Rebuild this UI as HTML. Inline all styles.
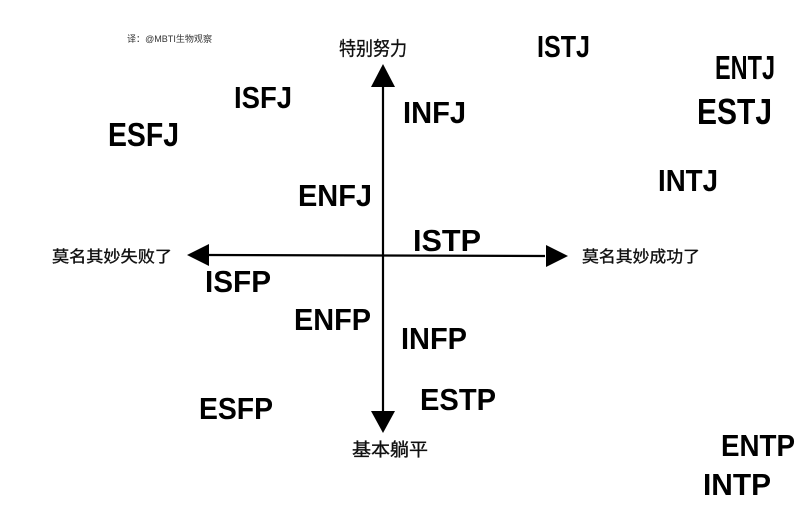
<!DOCTYPE html>
<html><head><meta charset="utf-8"><style>body{margin:0;background:#fff}</style></head><body>
<svg width="802" height="506" viewBox="0 0 802 506" xmlns="http://www.w3.org/2000/svg" style="display:block">
<rect width="802" height="506" fill="#fff"/>
<g stroke="#000" stroke-width="2.2">
<line x1="383" y1="85" x2="383" y2="412"/>
<line x1="208" y1="255" x2="545" y2="256"/>
</g>
<g fill="#000">
<polygon points="383,64 371,87 395,87"/>
<polygon points="383,433 371,411 395,411"/>
<polygon points="187,255 209,244 209,266"/>
<polygon points="568,256 546,245 546,267"/>
</g>
<g font-family="Liberation Sans, Noto Sans CJK SC, sans-serif" fill="#111" stroke="#111" stroke-width="0.35">
<text x="127" y="42" font-size="9" textLength="85" lengthAdjust="spacingAndGlyphs" fill="#333" stroke="none">译：@MBTI生物观察</text>
<text x="339" y="55" font-size="19" textLength="68" lengthAdjust="spacingAndGlyphs">特别努力</text>
<text x="352" y="456" font-size="18" textLength="76" lengthAdjust="spacingAndGlyphs">基本躺平</text>
<text x="52" y="262" font-size="16" textLength="120" lengthAdjust="spacingAndGlyphs">莫名其妙失败了</text>
<text x="582" y="262" font-size="16" textLength="118" lengthAdjust="spacingAndGlyphs">莫名其妙成功了</text>
</g>
<g font-family="Liberation Sans, sans-serif" font-weight="bold" font-size="31" fill="#000">
<text x="537" y="57" textLength="53" lengthAdjust="spacingAndGlyphs">ISTJ</text>
<text x="715" y="79" font-size="33" textLength="60" lengthAdjust="spacingAndGlyphs">ENTJ</text>
<text x="697" y="124" font-size="36" textLength="75" lengthAdjust="spacingAndGlyphs">ESTJ</text>
<text x="234" y="108" textLength="58" lengthAdjust="spacingAndGlyphs">ISFJ</text>
<text x="403" y="123" textLength="63" lengthAdjust="spacingAndGlyphs">INFJ</text>
<text x="108" y="146" font-size="33" textLength="71" lengthAdjust="spacingAndGlyphs">ESFJ</text>
<text x="658" y="191" textLength="60" lengthAdjust="spacingAndGlyphs">INTJ</text>
<text x="298" y="206" textLength="74" lengthAdjust="spacingAndGlyphs">ENFJ</text>
<text x="413" y="251" textLength="68" lengthAdjust="spacingAndGlyphs">ISTP</text>
<text x="205" y="292" textLength="66" lengthAdjust="spacingAndGlyphs">ISFP</text>
<text x="294" y="330" textLength="77" lengthAdjust="spacingAndGlyphs">ENFP</text>
<text x="401" y="349" textLength="66" lengthAdjust="spacingAndGlyphs">INFP</text>
<text x="420" y="410" textLength="76" lengthAdjust="spacingAndGlyphs">ESTP</text>
<text x="199" y="419" textLength="74" lengthAdjust="spacingAndGlyphs">ESFP</text>
<text x="721" y="456" textLength="74" lengthAdjust="spacingAndGlyphs">ENTP</text>
<text x="703" y="495" textLength="68" lengthAdjust="spacingAndGlyphs">INTP</text>
</g>
</svg>
</body></html>
